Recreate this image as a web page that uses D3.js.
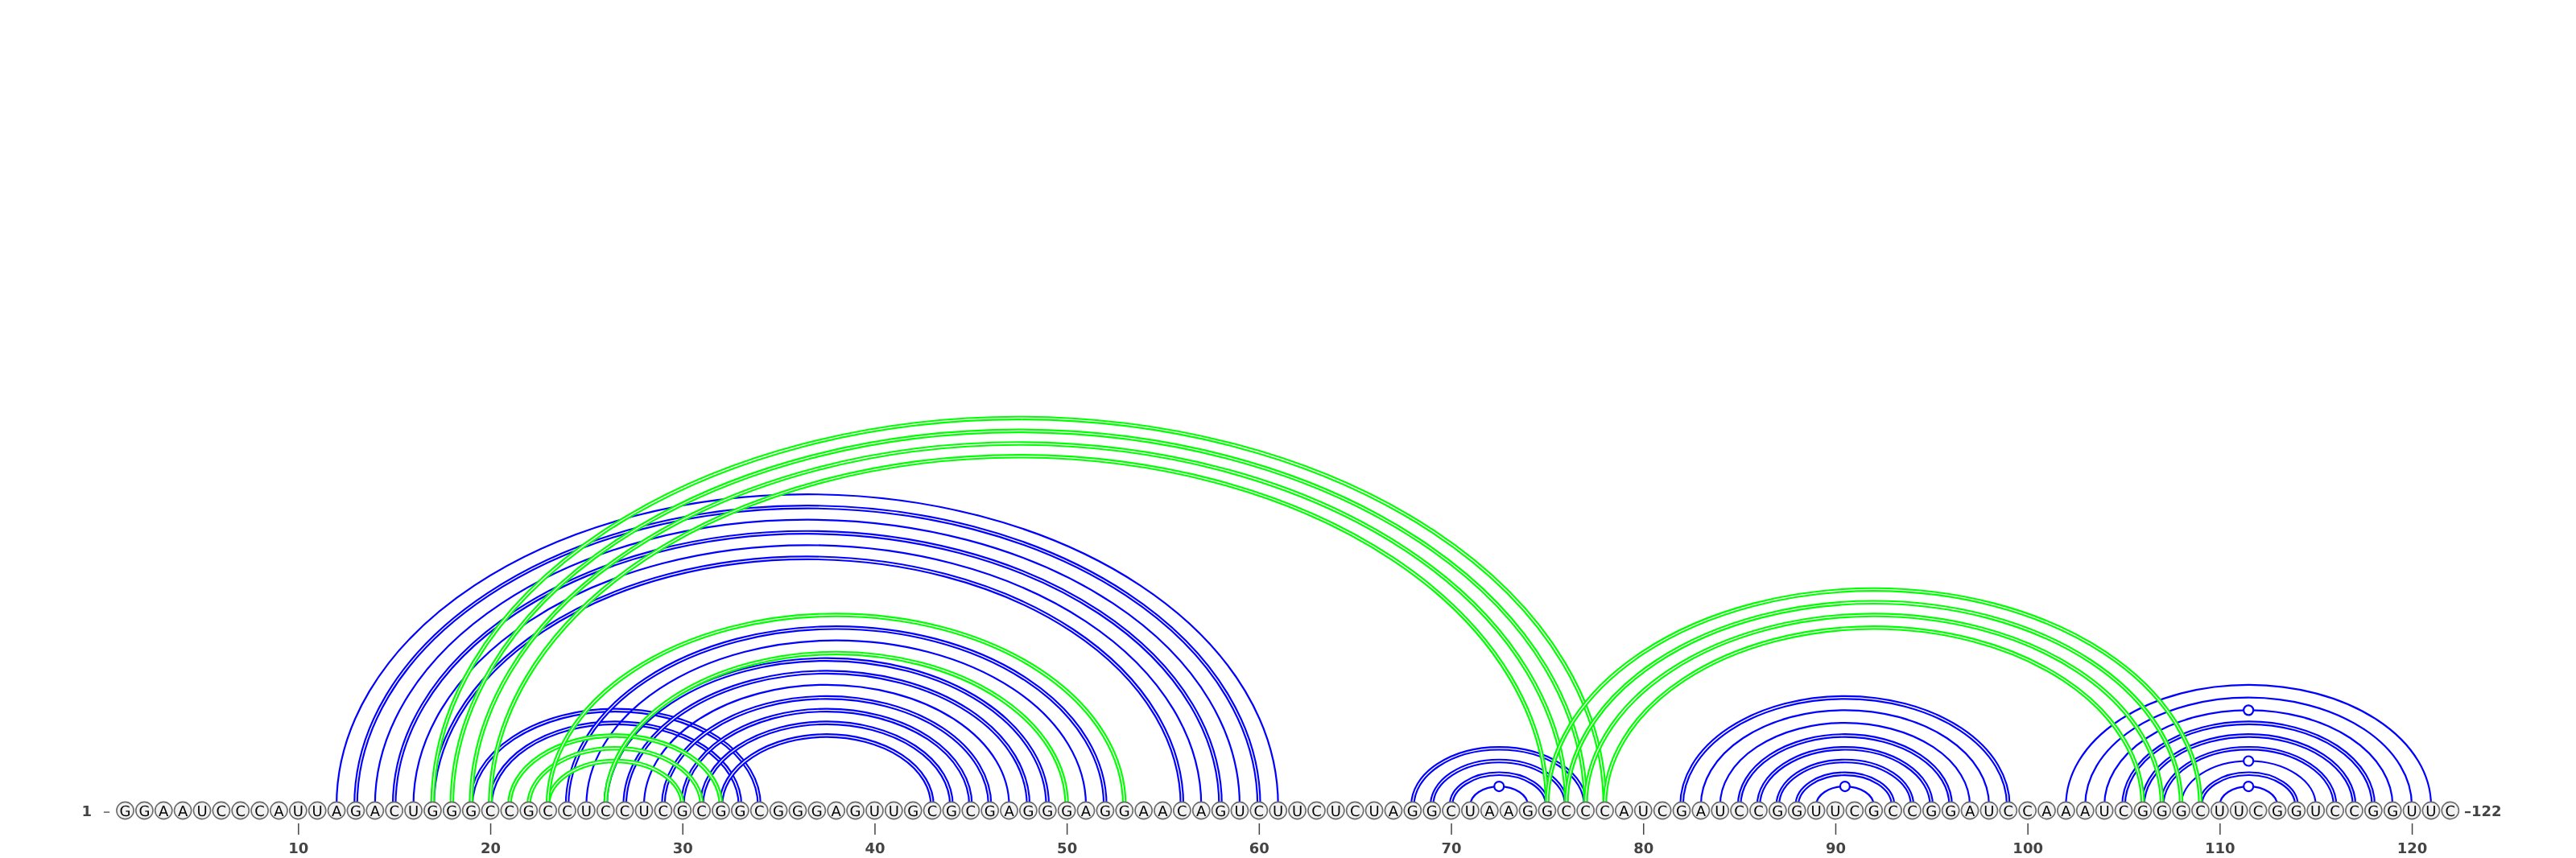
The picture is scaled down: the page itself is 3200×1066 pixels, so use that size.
<!DOCTYPE html>
<html>
<head>
<meta charset="utf-8">
<script src="https://cdn.jsdelivr.net/npm/d3@7"></script>
<style>
	body { margin: 0; background: #fff; }
	svg { display: block; will-change: transform; }
	svg text { -webkit-font-smoothing: antialiased; text-rendering: geometricPrecision; }
</style>
</head>
<body>
<svg id="chart" width="3200" height="1066"></svg>
<script>
// sequence, one letter per nucleotide (1..122)
var sequence = "GGAAUCCCAUUAGACUGGGCCGCCUCCUCGCGGCGGGAGUUGCGCGAGGGAGGAACAGUCUUCUCUAGGCUAAGGCCCAUCGAUCCGGUUCGCCGGAUCCAAAUCGGGCUUCGGUCCGGUUC";

// blue pairs: [i, j, line kind] d = double line, s = single line
var bluePairs = [
	[12, 61, "s"], [13, 60, "d"], [14, 59, "s"], [15, 58, "d"], [16, 57, "s"], [17, 56, "d"],
	[19, 34, "d"], [20, 33, "d"],
	[24, 52, "d"], [25, 51, "s"], [26, 49, "d"], [27, 48, "d"], [28, 47, "s"],
	[29, 46, "d"], [30, 45, "d"], [31, 44, "d"], [32, 43, "d"],
	[68, 77, "d"], [69, 76, "d"], [70, 75, "d"], [71, 74, "s"],
	[82, 99, "d"], [83, 98, "s"], [84, 97, "s"], [85, 96, "d"], [86, 95, "d"],
	[87, 94, "d"], [88, 93, "d"], [89, 92, "s"],
	[102, 121, "s"], [103, 120, "s"], [104, 119, "s"], [105, 118, "d"], [106, 117, "d"],
	[107, 116, "d"], [108, 115, "s"], [109, 114, "d"], [110, 113, "s"]
];

// green pairs (alternative / pseudoknot pairs)
var greenPairs = [
	[17, 78, "d"], [18, 77, "d"], [19, 76, "d"], [20, 75, "d"],
	[21, 32, "d"], [22, 31, "d"], [23, 30, "d"],
	[23, 53, "d"], [26, 50, "d"],
	[75, 109, "d"], [76, 108, "d"], [77, 107, "d"], [78, 106, "d"]
];

// arcs that carry a small circle on top
var loopMarks = [[71, 74], [89, 92], [104, 119], [108, 115], [110, 113]];

var tickValues = [10, 20, 30, 40, 50, 60, 70, 80, 90, 100, 110, 120];

var svg = d3.select("#chart");
var n = sequence.length;
var baseY = 1007;      // centre of the nucleotide circles
var arcY = 1000.7;     // arcs start just inside the circles
var flat = 0.661;      // ry / rx

var x = d3.scaleLinear().domain([1, n]).range([155.5, 3043.8]);

function arcPath(d) {
	var x1 = x(d[0]), x2 = x(d[1]);
	var rx = (x2 - x1) / 2, ry = rx * flat;
	return "M" + x1 + "," + arcY + " A" + rx + "," + ry + " 0 0 1 " + x2 + "," + arcY;
}

function drawArcs(pairs, colour) {
	var g = svg.append("g").attr("fill", "none");
	pairs.forEach(function(d) {
		if (d[2] == "d") {
			g.append("path").attr("d", arcPath(d))
				.attr("stroke", colour).attr("stroke-width", 5.6);
			g.append("path").attr("d", arcPath(d))
				.attr("stroke", "#fff").attr("stroke-width", 1.3);
		} else {
			g.append("path").attr("d", arcPath(d))
				.attr("stroke", colour).attr("stroke-width", 2.2);
		}
	});
	return g;
}

drawArcs(bluePairs, "#0000ff");

// little circles on the hairpin arcs
svg.append("g").selectAll("circle")
	.data(loopMarks)
	.join("circle")
	.attr("cx", function(d) { return (x(d[0]) + x(d[1])) / 2; })
	.attr("cy", function(d) { return arcY - (x(d[1]) - x(d[0])) / 2 * flat; })
	.attr("r", 6)
	.attr("fill", "#fff")
	.attr("stroke", "#0000ff")
	.attr("stroke-width", 2.2);

drawArcs(greenPairs, "#00ff00");

// nucleotides
var nt = svg.append("g").selectAll("g")
	.data(sequence.split(""))
	.join("g")
	.attr("transform", function(d, i) { return "translate(" + x(i + 1) + "," + baseY + ")"; });

nt.append("circle")
	.attr("r", 10.6)
	.attr("fill", "#f2f2f2")
	.attr("stroke", "#6b6b6b")
	.attr("stroke-width", 1.6);

nt.append("text")
	.attr("text-anchor", "middle")
	.attr("y", 6.6)
	.attr("font-family", "DejaVu Sans, sans-serif")
	.attr("font-size", 18)
	.attr("fill", "#000")
	.text(function(d) { return d; });

// position axis
var axis = d3.axisBottom(x)
	.tickValues(tickValues)
	.tickSize(14)
	.tickPadding(10)
	.tickFormat(d3.format("d"));

var ax = svg.append("g")
	.attr("transform", "translate(0,1023)")
	.call(axis);
ax.select(".domain").remove();
ax.selectAll("line").attr("stroke", "#444").attr("stroke-width", 1.5);
ax.selectAll("text")
	.attr("font-family", "DejaVu Sans, sans-serif")
	.attr("font-size", 18)
	.attr("font-weight", "bold")
	.attr("fill", "#444");

// end labels
var endLabels = svg.append("g")
	.attr("font-family", "DejaVu Sans, sans-serif")
	.attr("font-size", 18)
	.attr("font-weight", "bold")
	.attr("fill", "#444");

endLabels.append("text")
	.attr("x", 114).attr("y", baseY + 7)
	.attr("text-anchor", "end")
	.text("1");

endLabels.append("text")
	.attr("x", 128).attr("y", baseY + 7)
	.attr("font-weight", "normal")
	.text("\u2013");

endLabels.append("text")
	.attr("x", 3061).attr("y", baseY + 7)
	.text("\u2013" + n);
</script>
</body>
</html>
